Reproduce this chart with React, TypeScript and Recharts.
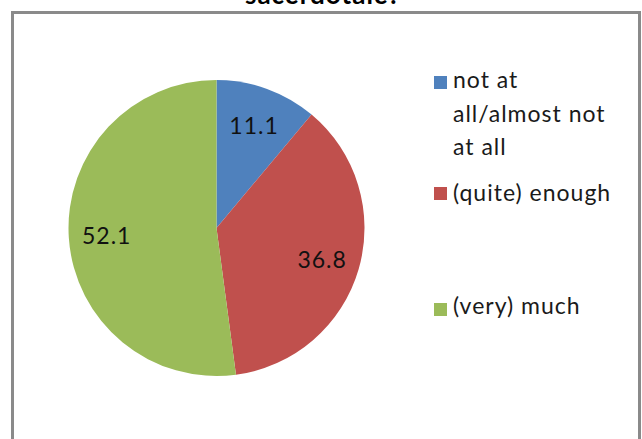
import React from 'react';
import { PieChart, Pie, Cell, Legend } from 'recharts';

const categories = ['not at all/almost not at all', '(quite) enough', '(very) much'];
const values = [11.1, 36.8, 52.1];
const colors = ['#4F81BD', '#C0504D', '#9BBB59'];
const legendLines = [['not at', 'all/almost not', 'at all'], ['(quite) enough'], ['(very) much']];
const titleText = 'sacerdotale?';

const data = categories.map((name, i) => ({ name, value: values[i] }));

const FONT = 'Lato, "Open Sans", sans-serif';
const RAD = Math.PI / 180;

const renderLabel = (props: any) => {
  const { cx, cy, midAngle, value } = props;
  const r = 110;
  const x = cx + r * Math.cos(-midAngle * RAD);
  const y = cy + r * Math.sin(-midAngle * RAD);
  return (
    <text x={x} y={y} textAnchor="middle" dominantBaseline="central" fontFamily={FONT} fontSize={23} letterSpacing={1} fill="#111">
      {value.toFixed(1)}
    </text>
  );
};

const legendTextTops = [63.2, 176.2, 289.2];
const legendSquareTops = [76, 187, 303];

const renderLegend = (props: any) => {
  const payload = props.payload || [];
  return (
    <div style={{ position: 'relative', width: 642, height: 439 }}>
      {categories.map((name, i) => {
        const entry = payload.find((p: any) => p.value === name);
        const color = colors[i] || (entry && entry.color);
        return (
          <React.Fragment key={name}>
            <div
              style={{
                position: 'absolute',
                left: 434,
                top: legendSquareTops[i],
                width: 13,
                height: 13,
                background: color,
              }}
            />
            <div
              style={{
                position: 'absolute',
                left: 453,
                top: legendTextTops[i],
                fontFamily: FONT,
                fontSize: 23,
                letterSpacing: '1px',
                lineHeight: '33.5px',
                color: '#1a1a1a',
                whiteSpace: 'nowrap',
              }}
            >
              {legendLines[i].map((l, j) => (
                <div key={j}>{l}</div>
              ))}
            </div>
          </React.Fragment>
        );
      })}
    </div>
  );
};

export default function App() {
  return (
    <div style={{ position: 'absolute', left: 0, top: 0, width: 642, height: 439, background: '#fff', overflow: 'hidden' }}>
      <div
        style={{
          position: 'absolute',
          left: 11,
          top: 11,
          width: 630,
          height: 450,
          boxSizing: 'border-box',
          borderTop: '3px solid #8a8a8a',
          borderLeft: '3px solid #8a8a8a',
          borderRight: '3px solid #8a8a8a',
        }}
      />
      <svg width={642} height={20} style={{ position: 'absolute', left: 0, top: 0 }}>
        <text x={323} y={3.5} textAnchor="middle" fontFamily={FONT} fontWeight="bold" fontSize={26} letterSpacing={1} fill="#000">
          {titleText}
        </text>
      </svg>
      <div style={{ position: 'absolute', left: 0, top: 0 }}>
        <PieChart width={642} height={439} margin={{ top: 0, right: 0, bottom: 0, left: 0 }}>
          <Pie
            data={data}
            dataKey="value"
            nameKey="name"
            cx={216.5}
            cy={228}
            outerRadius={148}
            startAngle={90}
            endAngle={-270}
            stroke="none"
            label={renderLabel}
            labelLine={false}
            isAnimationActive={false}
          >
            {data.map((_, i) => (
              <Cell key={i} fill={colors[i]} />
            ))}
          </Pie>
          <Legend
            content={renderLegend}
            wrapperStyle={{ position: 'absolute', left: 0, top: 0, width: 642, height: 439, pointerEvents: 'none' }}
          />
        </PieChart>
      </div>
    </div>
  );
}
